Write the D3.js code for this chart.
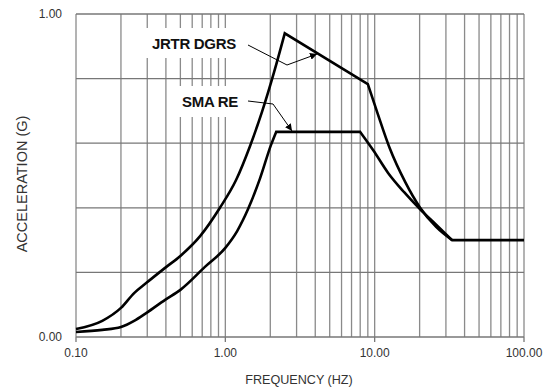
<!DOCTYPE html>
<html>
<head>
<meta charset="utf-8">
<script src="https://cdn.jsdelivr.net/npm/d3@7"></script>
<style>
  body { margin: 0; background: #fff; }
  text { font-family: "Liberation Sans", Arial, sans-serif; }
</style>
</head>
<body>
<div id="chart"></div>
<script>
// frequency (Hz) / acceleration (g)
const jrtrFreq = [0.1, 0.15, 0.2, 0.245, 0.295, 0.395, 0.5, 0.68, 0.92, 1.18, 1.46, 1.76, 2.12, 2.5, 9, 10.5, 12.6, 16, 20.1, 25.8, 33, 100];
const jrtrAcc  = [0.025, 0.05, 0.09, 0.136, 0.167, 0.214, 0.251, 0.313, 0.40, 0.486, 0.59, 0.697, 0.82, 0.94, 0.783, 0.69, 0.585, 0.48, 0.401, 0.341, 0.30, 0.30];
const jrtrCorners = [2.5, 9, 33];
const smaFreq = [0.1, 0.15, 0.2, 0.245, 0.295, 0.395, 0.5, 0.73, 1.0, 1.2, 1.42, 1.71, 2.02, 2.19, 8, 9.76, 12.3, 15.7, 20.1, 25.8, 33];
const smaAcc  = [0.0155, 0.022, 0.031, 0.05, 0.074, 0.115, 0.146, 0.217, 0.276, 0.328, 0.396, 0.492, 0.594, 0.635, 0.635, 0.579, 0.508, 0.449, 0.396, 0.348, 0.30];
const smaCorners = [2.19, 8];

const xTickLabels = ["0.10", "1.00", "10.00", "100.00"];
const yTickLabels = ["0.00", "1.00"];

const width = 549, height = 390;
const margin = { top: 14, right: 25, bottom: 53, left: 76 };

const svg = d3.select("#chart").append("svg")
    .attr("width", width)
    .attr("height", height);

const x = d3.scaleLog()
    .domain([0.1, 100])
    .range([margin.left, width - margin.right]);
const y = d3.scaleLinear()
    .domain([0, 1])
    .range([height - margin.bottom, margin.top]);

// grid: every 1..9 of each decade, every 0.2 g
const grid = svg.append("g");
grid.selectAll(".vg")
    .data(x.ticks())
    .enter().append("line")
    .attr("x1", d => x(d)).attr("x2", d => x(d))
    .attr("y1", y(0)).attr("y2", y(1))
    .attr("stroke", "#8a8a8a")
    .attr("stroke-width", 1.3);
grid.selectAll(".hg")
    .data(d3.range(0, 1.01, 0.2))
    .enter().append("line")
    .attr("x1", x(0.1)).attr("x2", x(100))
    .attr("y1", d => y(d)).attr("y2", d => y(d))
    .attr("stroke", "#777")
    .attr("stroke-width", 1.3);

// small ticks under the decades
svg.selectAll(".xt")
    .data(xTickLabels)
    .enter().append("line")
    .attr("x1", d => x(+d)).attr("x2", d => x(+d))
    .attr("y1", y(0)).attr("y2", y(0) + 5)
    .attr("stroke", "#777")
    .attr("stroke-width", 1.3);

svg.selectAll(".xl")
    .data(xTickLabels)
    .enter().append("text")
    .attr("x", d => x(+d))
    .attr("y", y(0) + 20)
    .attr("text-anchor", "middle")
    .style("font-size", "12px")
    .style("fill", "#333")
    .text(d => d);

svg.selectAll(".yl")
    .data(yTickLabels)
    .enter().append("text")
    .attr("x", 62)
    .attr("y", d => y(+d) + 4)
    .attr("text-anchor", "end")
    .style("font-size", "12px")
    .style("fill", "#333")
    .text(d => d);

svg.append("text")
    .attr("x", 299)
    .attr("y", 384)
    .attr("text-anchor", "middle")
    .style("font-size", "12.6px")
    .style("fill", "#333")
    .text("FREQUENCY (HZ)");

svg.append("text")
    .attr("transform", "translate(27,184) rotate(-90)")
    .attr("text-anchor", "middle")
    .style("font-size", "14.5px")
    .style("fill", "#333")
    .text("ACCELERATION (G)");

// label boxes knock out the grid behind them
const labels = [
    { text: "JRTR DGRS", x0: 142, x1: 246, y0: 28, y1: 58, tx: 152, ty: 49 },
    { text: "SMA RE", x0: 174, x1: 246, y0: 86, y1: 117, tx: 182, ty: 107 }
];
svg.selectAll(".lb")
    .data(labels)
    .enter().append("rect")
    .attr("x", d => d.x0).attr("y", d => d.y0)
    .attr("width", d => d.x1 - d.x0).attr("height", d => d.y1 - d.y0)
    .attr("fill", "#fff");
svg.selectAll(".lt")
    .data(labels)
    .enter().append("text")
    .attr("x", d => d.tx).attr("y", d => d.ty)
    .style("font-size", "15px")
    .style("font-weight", "bold")
    .style("letter-spacing", "-0.3px")
    .style("fill", "#111")
    .text(d => d.text);

// curves: smooth between corners, sharp at the corners
const smooth = d3.line()
    .x(d => x(d[0])).y(d => y(d[1]))
    .curve(d3.curveMonotoneX);

function spectrumPath(freq, acc, corners) {
    const pts = d3.zip(freq, acc);
    let parts = [], cur = [];
    pts.forEach(p => {
        cur.push(p);
        if (corners.includes(p[0])) {
            parts.push(cur);
            cur = [p];
        }
    });
    if (cur.length > 1) parts.push(cur);
    return parts.map((seg, i) => {
        const s = smooth(seg);
        return i == 0 ? s : "L" + s.slice(1);
    }).join("");
}

const series = [
    spectrumPath(jrtrFreq, jrtrAcc, jrtrCorners),
    spectrumPath(smaFreq, smaAcc, smaCorners)
];
svg.selectAll(".curve")
    .data(series)
    .enter().append("path")
    .attr("d", d => d)
    .attr("fill", "none")
    .attr("stroke", "#000")
    .attr("stroke-width", 2.6)
    .attr("stroke-linejoin", "miter");

// leader arrows
svg.append("defs").append("marker")
    .attr("id", "arr")
    .attr("viewBox", "0 0 10 10")
    .attr("refX", 10).attr("refY", 5)
    .attr("markerWidth", 7).attr("markerHeight", 7)
    .attr("markerUnits", "userSpaceOnUse")
    .attr("orient", "auto")
    .append("path")
    .attr("d", "M0,0L10,5L0,10Z")
    .attr("fill", "#000");

const leaders = [
    [[248, 45], [287, 65], [317, 54]],
    [[248, 101], [273, 104], [292, 131]]
];
svg.selectAll(".leader")
    .data(leaders)
    .enter().append("path")
    .attr("d", d3.line())
    .attr("fill", "none")
    .attr("stroke", "#000")
    .attr("stroke-width", 1)
    .attr("marker-end", "url(#arr)");
</script>
</body>
</html>
